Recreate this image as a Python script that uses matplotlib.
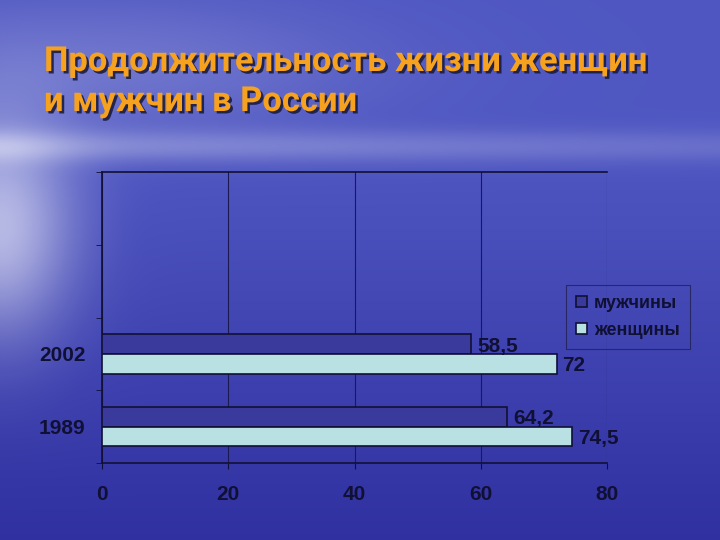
import matplotlib
matplotlib.use("Agg")
import matplotlib.pyplot as plt
import matplotlib.patheffects as pe
import numpy as np

# данные
years = ['1989', '2002', '', '']
men = [64.2, 58.5]
women = [74.5, 72]
men_labels = ['64,2', '58,5']
women_labels = ['74,5', '72']
series_names = ['мужчины', 'женщины']
x_ticks = [0, 20, 40, 60, 80]
title_lines = ['Продолжительность жизни женщин', 'и мужчин в России']

W, H = 720, 540
fig = plt.figure(figsize=(W / 100, H / 100), dpi=100)

# фон: небо сверху, море снизу
yy, xx = np.mgrid[0:H, 0:W] / np.array([H, W])[:, None, None]
top = np.array([0.31, 0.34, 0.76])
sea = np.array([0.19, 0.19, 0.63])
t = np.clip((yy - 0.28) / 0.72, 0, 1)[..., None]
bg = top * (1 - t) + sea * t
band = (np.exp(-((yy - 0.27) / 0.03) ** 2) * (1 - 0.5 * xx))[..., None] * 0.28
glare = (np.exp(-((xx - 0.0) / 0.10) ** 2) * np.exp(-((yy - 0.42) / 0.20) ** 2))[..., None] * 0.6
cloud = (np.exp(-((xx - 0.15) / 0.35) ** 2) * np.exp(-((yy - 0.12) / 0.12) ** 2))[..., None] * 0.18
bg = np.clip(bg + (1 - bg) * (band + glare + cloud), 0, 1)
bgax = fig.add_axes([0, 0, 1, 1])
bgax.imshow(bg, aspect='auto', extent=[0, 1, 0, 1])
bgax.axis('off')

# заголовок, размер подгоняется под ширину первой строки (~604 px)
renderer = fig.canvas.get_renderer()
titles = []
for k, line in enumerate(title_lines):
    tt = fig.text(44 / W, 1 - (62 + 40 * k) / H, line,
                  color='#f7a21e', fontsize=23, fontweight='bold', family=['Roboto', 'DejaVu Sans'],
                  va='center', ha='left',
                  path_effects=[pe.withSimplePatchShadow(offset=(1.8, -1.8), shadow_rgbFace='#181838', alpha=0.85)])
    titles.append(tt)
wpx = titles[0].get_window_extent(renderer).width
fs = 23 * 604 / wpx
for tt in titles:
    tt.set_fontsize(fs)

ax = fig.add_axes([102 / W, 1 - 463 / H, (607 - 102) / W, (463 - 172) / H])
ax.patch.set_alpha(0)
ax.set_zorder(2)

pos = np.arange(len(years))
h = 0.27
dark = '#101035'
ax.barh(pos[:2] + h / 2, men, height=h, color='#3a3a9c', edgecolor=dark, linewidth=1.2, label=series_names[0], zorder=3)
ax.barh(pos[:2] - h / 2, women, height=h, color='#b9e1e4', edgecolor=dark, linewidth=1.2, label=series_names[1], zorder=3)

for i in range(2):
    ax.text(men[i] + 0.9, pos[i] + h / 2 - 0.03, men_labels[i], va='center', ha='left',
            fontsize=15, fontweight='bold', color=dark, family='Liberation Sans')
    ax.text(women[i] + 0.9, pos[i] - h / 2 - 0.03, women_labels[i], va='center', ha='left',
            fontsize=15, fontweight='bold', color=dark, family='Liberation Sans')

ax.set_xlim(0, 80)
ax.set_ylim(-0.5, 3.5)
ax.set_xticks(x_ticks)
ax.set_xticklabels([str(v) for v in x_ticks])
ax.set_yticks(pos)
ax.set_yticklabels(years)
ax.set_yticks(np.arange(-0.5, 4, 1), minor=True)
ax.tick_params(axis='y', which='major', length=0, pad=12)
ax.tick_params(axis='y', which='minor', length=4, color=dark, direction='out')
ax.tick_params(axis='x', length=4, color=dark, direction='out', pad=12)
for lab in ax.get_xticklabels() + ax.get_yticklabels():
    lab.set_fontweight('bold')
    lab.set_fontsize(15)
    lab.set_color(dark)
    lab.set_family('Liberation Sans')

ax.grid(axis='x', color='#1a1a50', linewidth=0.8, zorder=1)
for s in ['left', 'bottom', 'top']:
    ax.spines[s].set_color(dark)
    ax.spines[s].set_linewidth(1.2)
ax.spines['right'].set_visible(False)

leg = ax.legend(loc='upper left', bbox_to_anchor=((566 - 102) / 505, 1 - (285 - 172) / 291),
                borderaxespad=0, frameon=True, fancybox=False, handlelength=0.6, handleheight=0.6,
                handletextpad=0.4, labelspacing=0.55, borderpad=0.55,
                prop={'family': 'Liberation Sans', 'weight': 'bold', 'size': 13})
leg.get_frame().set_facecolor('none')
leg.get_frame().set_edgecolor('#202050')
leg.get_frame().set_linewidth(0.8)
for txt in leg.get_texts():
    txt.set_color(dark)

fig.savefig('out.png', dpi=100)
